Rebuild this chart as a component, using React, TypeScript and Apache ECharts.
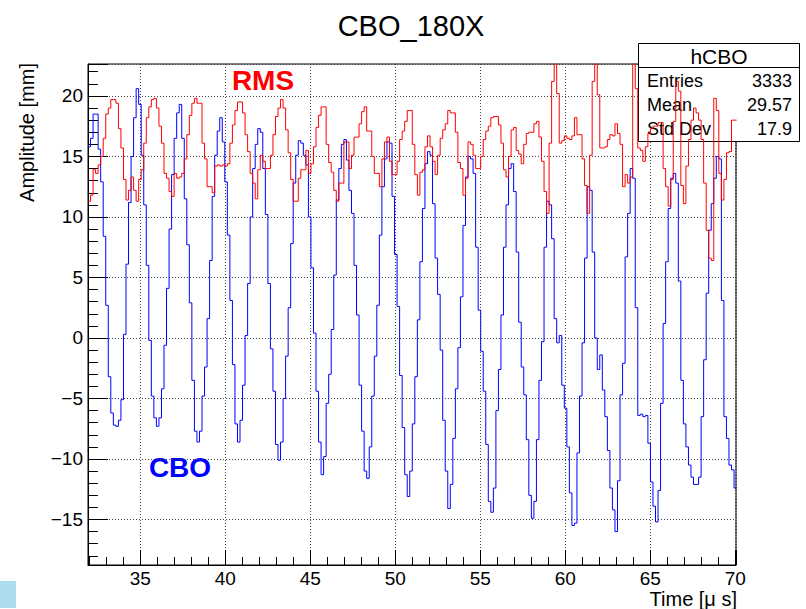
import React, { useEffect, useRef } from "react";
import * as echarts from "echarts";

// ---- texts ----
const TITLE = "CBO_180X";
const X_TITLE = "Time [\u03bc s]";
const Y_TITLE = "Amplitude [mm]";
const HIST_NAME = "hCBO";
const STAT_LABELS = ["Entries", "Mean", "Std Dev"];
const STAT_VALUES = ["3333", "29.57", "17.9"];
const CBO_LABEL = "CBO";
const RMS_LABEL = "RMS";

// ---- axis ranges / binning ----
const X_MIN = 31.93;
const X_MAX = 70.04;
const Y_MIN = -18.76;
const Y_MAX = 22.64;
const HIST_START = 31.93;
const BIN_WIDTH = 0.149;

// ---- histogram contents (one value per bin) ----
const CBO = [
  15.8, 16.5, 18.5, 18.5, 15.6, 12.9, 8.4, 2.7, -3.2, -6.2,
  -7.2, -7.3, -6.8, -5.1, 0.3, 6.1, 11.2, 15, 18.2, 20.6,
  19.3, 15.1, 11, 6, -0.2, -4.8, -6.6, -7.3, -6.6, -4.2,
  -0.6, 4.1, 9, 13.5, 16.5, 18.6, 19.3, 16.5, 11.5, 7.7,
  2.9, -3.5, -7.7, -8.6, -7.7, -4.8, -2.4, 1.6, 6.4, 11.7,
  15.1, 17.1, 18.2, 16.2, 12.9, 8.5, 3.1, -2.2, -7.1, -8.6,
  -6.8, -3.9, 0.2, 4.5, 10, 14, 16, 17.3, 17, 14,
  10.2, 4.5, -0.9, -4.4, -8.8, -10.1, -8.6, -5, -1.5, 2.5,
  7.8, 12.8, 15.1, 16.3, 16.1, 15.1, 14.3, 10, 5.8, 0.4,
  -4.4, -8.6, -11.3, -9.8, -5.4, -3, 0.7, 5.2, 11.4, 14,
  16, 16.4, 14.7, 12.2, 10.3, 6, 1.9, -3.9, -7.7, -11,
  -11.6, -9, -4.8, -1.5, 2.7, 8.5, 12.5, 14.8, 16.2, 16.1,
  11.7, 6.9, 2.6, -3.1, -7.4, -11.3, -13.1, -11, -7.1, -3.2,
  1.5, 6.3, 10.7, 14.4, 15.4, 15.1, 11.1, 6.6, 3.6, -1,
  -6.8, -11, -14.1, -12.1, -8.3, -4.2, -0.8, 3.4, 9.3, 13.3,
  15, 14.8, 13.6, 7.5, 2.3, -1.1, -4.4, -8.8, -13.5, -14.4,
  -12.4, -6, -2.6, 1.9, 7.5, 11, 14, 14.4, 12.1, 7.1,
  1.3, -2.4, -4.7, -8.4, -13, -14.9, -13.5, -8.4, -3.5, -0.3,
  7.5, 11.3, 11, 8.2, 1.6, -0.4, 0.2, -3.9, -5.8, -9,
  -12.8, -15.5, -15.3, -9.5, -4.8, -0.4, 6.6, 12.5, 12.2, 7.1,
  0, -2.6, -1.4, -4.3, -6.5, -9.3, -12.4, -14.2, -16, -11.8,
  -4.7, -2.1, 6.7, 10.3, 14, 13.2, 2.5, -6.4, -6.3, -6.5,
  -6.4, -8.7, -11.9, -13.9, -15.2, -12.6, -5.4, 1.2, 6.3, 10.7,
  13.2, 13.6, 12.8, 4.7, -3.5, -7.1, -9, -10.5, -11.5, -12.1,
  -12.1, -11.5, -6.5, -1.8, 3.7, 8.9, 11.1, 13.2, 15, 14.8,
  3.1, -6.5, -8.3, -10.5, -10.9, -12.4,
];

const RMS = [
  11.3, 11.8, 13.9, 13.6, 14.3, 15, 16.5, 18.5, 19, 19.7,
  19.7, 19.4, 17.3, 15.7, 13.1, 11.4, 12.2, 13.3, 12.2, 11.3,
  13.1, 13.9, 16.1, 18.2, 19.1, 19.7, 19.8, 19, 17.5, 16.1,
  13.6, 13.2, 12.1, 11.7, 13.6, 13.2, 13.3, 13.6, 14.8, 16.8,
  18.4, 19.4, 19.8, 19.4, 19.4, 16.1, 14.8, 12.5, 12.5, 12,
  14.2, 14.3, 14.2, 14.3, 14.2, 14.4, 16.1, 17.6, 18.8, 19.5,
  19.5, 18.6, 16.8, 15.4, 13.6, 12.8, 11.5, 13.9, 15.1, 14.6,
  14, 14, 15.1, 16.8, 18.3, 19, 19.7, 19, 17.2, 15.3,
  13.1, 11.3, 11.3, 13.2, 13.9, 13.9, 15.5, 13.6, 14.4, 15.8,
  17.4, 18.4, 19.1, 19.1, 16, 14.5, 13.7, 12.2, 11.3, 12.8,
  12.8, 16.2, 16.2, 14, 15.1, 16.6, 16.6, 17.7, 18.7, 19.1,
  17.1, 17.1, 15, 13.6, 13.6, 12.5, 14.8, 16.2, 16.6, 14.6,
  13.5, 13.5, 14.6, 16.4, 17.1, 17.9, 18.8, 18.8, 16, 13.5,
  11.8, 13.7, 13.9, 15.8, 16.7, 15.8, 14.6, 13.5, 15.1, 16.5,
  17.2, 17.7, 18.8, 18.6, 18.6, 17, 14.5, 14, 11.8, 13.2,
  16.2, 16, 15.1, 14, 14, 15, 16.4, 17.1, 17.5, 18.2,
  18.3, 18.3, 17.6, 16.1, 13.9, 13.3, 15, 17.2, 17.4, 15.5,
  15.2, 14.4, 16, 16.9, 17, 17, 17.7, 17.9, 16.6, 14.6,
  12.1, 10.3, 16.1, 21.2, 25, 20.2, 16.1, 16.3, 16.7, 16.5,
  16.4, 16.7, 18.2, 16.8, 16.8, 14.8, 12.6, 10.3, 15.1, 21.2,
  25, 20.1, 15.7, 15.7, 15.8, 16.4, 16.8, 16.7, 17.7, 16.9,
  16, 12.5, 13.5, 12.8, 13.3, 25, 20.6, 15.7, 15.5, 14.6,
  15.8, 16.9, 17.3, 17.5, 17.5, 17.8, 17.8, 14, 12.5, 10.9,
  13.1, 17.9, 21.2, 20.4, 12.6, 11.1, 14.2, 16.4, 18, 19,
  18.6, 18, 16.4, 12.8, 8.9, 6.6, 6.4, 19.8, 18.8, 13.6,
  11.4, 13.1, 15.3, 15.4, 18, 18,
];

const FONT = "'Liberation Sans', Arial, Helvetica, sans-serif";

function histData(values: number[]): number[][] {
  const pts = values.map((v, i) => [HIST_START + i * BIN_WIDTH, v]);
  pts.push([HIST_START + values.length * BIN_WIDTH, values[values.length - 1]]);
  return pts;
}

function tickLabel(v: number): string {
  const r = Math.round(v);
  if (Math.abs(v - r) > 1e-6 || r % 5 !== 0) return "";
  return r < 0 ? "\u2212" + Math.abs(r) : String(r);
}

export default function App() {
  const ref = useRef<HTMLDivElement>(null);

  useEffect(() => {
    if (!ref.current) return;
    const chart = echarts.init(ref.current, undefined, { renderer: "svg" });

    const statRows: any[] = [];
    STAT_LABELS.forEach((lab, i) => {
      const y = 81 + i * 24;
      statRows.push({
        type: "text",
        z: 1,
        x: 647,
        y,
        style: { text: lab, fill: "#000", fontSize: 18, fontFamily: FONT, align: "left", verticalAlign: "middle" },
      });
      statRows.push({
        type: "text",
        z: 1,
        x: 792,
        y,
        style: { text: STAT_VALUES[i], fill: "#000", fontSize: 18, fontFamily: FONT, align: "right", verticalAlign: "middle" },
      });
    });

    const option: any = {
      animation: false,
      backgroundColor: "#ffffff",
      grid: {
        left: 88,
        top: 64,
        right: 70,
        bottom: 44,
        show: true,
        borderColor: "#000",
        borderWidth: 1,
        backgroundColor: "transparent",
      },
      xAxis: {
        type: "value",
        min: X_MIN,
        max: X_MAX,
        minInterval: 5,
        maxInterval: 5,
        splitNumber: 8,
        axisLine: { show: true, onZero: false, lineStyle: { color: "#000", width: 1 } },
        axisTick: { show: true, inside: true, length: 15, lineStyle: { color: "#000" } },
        minorTick: { show: true, splitNumber: 5, length: 8, lineStyle: { color: "#000" } },
        axisLabel: {
          show: true,
          margin: 4,
          color: "#000",
          fontSize: 19,
          lineHeight: 19,
          fontFamily: FONT,
          formatter: (v: number) => tickLabel(v),
          showMinLabel: false,
          showMaxLabel: false,
        },
        splitLine: { show: true, lineStyle: { color: "#444", type: [1, 2], width: 1 } },
      },
      yAxis: {
        type: "value",
        min: Y_MIN,
        max: Y_MAX,
        minInterval: 5,
        maxInterval: 5,
        splitNumber: 8,
        axisLine: { show: true, onZero: false, lineStyle: { color: "#000", width: 1 } },
        axisTick: { show: true, inside: true, length: 20, lineStyle: { color: "#000" } },
        minorTick: { show: true, splitNumber: 5, length: 10, lineStyle: { color: "#000" } },
        axisLabel: {
          show: true,
          margin: 5,
          color: "#000",
          fontSize: 19,
          fontFamily: FONT,
          formatter: (v: number) => tickLabel(v),
          showMinLabel: false,
          showMaxLabel: false,
        },
        splitLine: { show: true, lineStyle: { color: "#444", type: [1, 2], width: 1 } },
      },
      series: [
        {
          name: CBO_LABEL,
          type: "line",
          step: "end",
          data: histData(CBO),
          symbol: "none",
          clip: true,
          lineStyle: { color: "#0000ff", width: 1 },
          itemStyle: { color: "#0000ff" },
          z: 2,
        },
        {
          name: RMS_LABEL,
          type: "line",
          step: "end",
          data: histData(RMS),
          symbol: "none",
          clip: true,
          lineStyle: { color: "#ff0000", width: 1 },
          itemStyle: { color: "#ff0000" },
          z: 3,
        },
      ],
      graphic: [
        {
          type: "text",
          x: 411,
          y: 26,
          style: { text: TITLE, fill: "#000", fontSize: 29, fontFamily: FONT, align: "center", verticalAlign: "middle" },
        },
        {
          type: "text",
          x: 737,
          y: 599,
          style: { text: X_TITLE, fill: "#000", fontSize: 20, lineHeight: 20, fontFamily: FONT, align: "right", verticalAlign: "middle" },
        },
        {
          type: "text",
          x: 27,
          y: 63,
          rotation: Math.PI / 2,
          style: { text: Y_TITLE, fill: "#000", fontSize: 20, fontFamily: FONT, align: "right", verticalAlign: "middle" },
        },
        {
          type: "text",
          x: 263,
          y: 80,
          style: { text: RMS_LABEL, fill: "#ff0000", fontSize: 28, fontWeight: "bold", fontFamily: FONT, align: "center", verticalAlign: "middle" },
        },
        {
          type: "text",
          x: 180,
          y: 467,
          style: { text: CBO_LABEL, fill: "#0000ff", fontSize: 28, fontWeight: "bold", fontFamily: FONT, align: "center", verticalAlign: "middle" },
        },
        {
          type: "rect",
          z: 1,
          shape: { x: 638.5, y: 43.5, width: 161, height: 98 },
          style: { fill: "#ffffff", stroke: "#000", lineWidth: 1 },
        },
        {
          type: "line",
          z: 1,
          shape: { x1: 638.5, y1: 67.5, x2: 799.5, y2: 67.5 },
          style: { stroke: "#000", lineWidth: 1 },
        },
        {
          type: "text",
          z: 1,
          x: 719,
          y: 56,
          style: { text: HIST_NAME, fill: "#000", fontSize: 21, fontFamily: FONT, align: "center", verticalAlign: "middle" },
        },
        ...statRows,
        {
          type: "rect",
          shape: { x: 0, y: 581, width: 16, height: 27 },
          style: { fill: "#aadcec" },
        },
      ],
    };

    chart.setOption(option);
    return () => chart.dispose();
  }, []);

  return (
    <div
      ref={ref}
      style={{ position: "fixed", left: 0, top: 0, width: 806, height: 609 }}
    />
  );
}
